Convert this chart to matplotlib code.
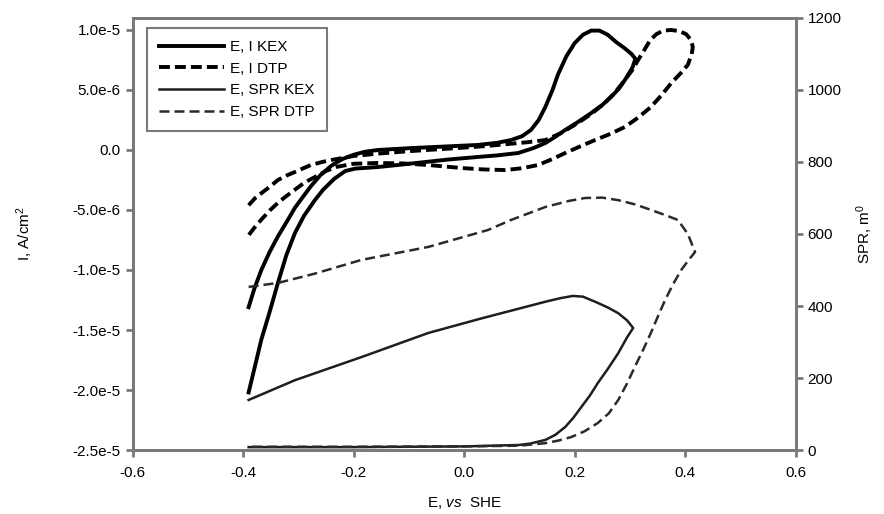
import matplotlib
matplotlib.use("Agg")
import matplotlib.pyplot as plt
from matplotlib.ticker import FixedLocator

plt.rcParams['font.family'] = ['Liberation Sans', 'DejaVu Sans']
plt.rcParams['mathtext.fontset'] = 'custom'
plt.rcParams['mathtext.rm'] = 'Liberation Sans'
plt.rcParams['mathtext.it'] = 'Liberation Sans:italic'

# current, KEX (E in V, I in uA/cm2)
e_i_kex = [-0.39, -0.38, -0.367, -0.352, -0.337, -0.32, -0.306, -0.29, -0.277, -0.26,
           -0.24, -0.22, -0.2, -0.18, -0.156, -0.1, -0.04, 0.025, 0.06, 0.085,
           0.105, 0.121, 0.135, 0.147, 0.16, 0.17, 0.185, 0.2, 0.215, 0.23,
           0.245, 0.26, 0.275, 0.29, 0.303, 0.31,
           0.305, 0.291, 0.28, 0.266, 0.25, 0.23, 0.205, 0.183, 0.165, 0.147,
           0.125, 0.098, 0.06, 0.025, -0.03, -0.08, -0.12, -0.156, -0.197, -0.215,
           -0.235, -0.255, -0.27, -0.29, -0.306, -0.322, -0.337, -0.352, -0.367, -0.38,
           -0.39]
i_kex = [-13.1, -11.6, -10.0, -8.5, -7.2, -5.9, -4.8, -3.8, -3.0, -2.1,
         -1.3, -0.75, -0.4, -0.15, 0.0, 0.15, 0.28, 0.42, 0.6, 0.83,
         1.15, 1.67, 2.5, 3.58, 5.0, 6.3, 7.8, 8.9, 9.6, 9.95,
         9.95, 9.6, 9.0, 8.5, 8.0, 7.6,
         6.9, 5.83, 5.1, 4.42, 3.75, 3.08, 2.3, 1.67, 1.1, 0.58,
         0.15, -0.25, -0.45, -0.58, -0.8, -1.05, -1.25, -1.42, -1.55, -1.75,
         -2.4, -3.3, -4.17, -5.5, -6.9, -8.8, -11.08, -13.5, -15.8, -18.3,
         -20.2]

# current, DTP
e_i_dtp = [-0.39, -0.378, -0.367, -0.35, -0.337, -0.32, -0.306, -0.29, -0.277, -0.257,
           -0.24, -0.2, -0.15, -0.1, -0.05, 0.0, 0.04, 0.08, 0.115, 0.147,
           0.175, 0.206, 0.23, 0.255, 0.275, 0.291, 0.305, 0.315, 0.327, 0.337,
           0.348, 0.36, 0.375, 0.39, 0.402, 0.41, 0.414, 0.412,
           0.405, 0.392, 0.375, 0.357, 0.338, 0.315, 0.291, 0.265, 0.237, 0.21,
           0.183, 0.16, 0.134, 0.105, 0.074, 0.035, -0.005, -0.065, -0.11, -0.156,
           -0.2, -0.23, -0.25, -0.27, -0.29, -0.306, -0.322, -0.337, -0.352, -0.367,
           -0.38, -0.39]
i_dtp = [-4.6, -4.0, -3.6, -3.0, -2.5, -2.1, -1.83, -1.5, -1.25, -1.0,
         -0.83, -0.5, -0.28, -0.1, 0.05, 0.2, 0.33, 0.5, 0.65, 0.83,
         1.4, 2.25, 3.0, 3.92, 4.9, 5.83, 6.7, 7.5, 8.4, 9.17,
         9.65, 9.95, 10.0, 9.9, 9.65, 9.2, 8.6, 8.0,
         7.1, 6.4, 5.58, 4.55, 3.58, 2.7, 1.92, 1.35, 0.83, 0.3,
         -0.25, -0.75, -1.25, -1.52, -1.67, -1.62, -1.5, -1.25, -1.12, -1.08,
         -1.15, -1.4, -1.75, -2.25, -2.75, -3.3, -3.85, -4.4, -5.05, -5.8,
         -6.5, -7.1]

# SPR, KEX (m deg)
e_spr_kex = [-0.39, -0.306, -0.186, -0.065, 0.03, 0.1, 0.15, 0.175, 0.197, 0.215,
             0.237, 0.26, 0.279, 0.295, 0.306,
             0.295, 0.279, 0.26, 0.242, 0.228, 0.212, 0.198, 0.183, 0.165, 0.147,
             0.12, 0.1, 0.0, -0.2, -0.39]
spr_kex = [139, 194, 258, 325, 365, 393, 413, 422, 428, 426,
           412, 396, 380, 360, 339,
           313, 269, 225, 186, 152, 119, 90, 64, 42, 28,
           18, 14, 10, 8, 8]

# SPR, DTP
e_spr_dtp = [-0.39, -0.337, -0.27, -0.186, -0.065, 0.043, 0.085, 0.147, 0.19, 0.219,
             0.25, 0.279, 0.31, 0.338, 0.365, 0.387, 0.405, 0.418,
             0.405, 0.393, 0.378, 0.364, 0.351, 0.338, 0.324, 0.309, 0.295, 0.279,
             0.262, 0.242, 0.218, 0.194, 0.17, 0.147, 0.1, 0.0, -0.2, -0.39]
spr_dtp = [453, 464, 490, 528, 564, 611, 639, 675, 692, 700,
           701, 694, 682, 667, 652, 639, 600, 550,
           525, 500, 460, 417, 372, 325, 278, 231, 185, 139,
           102, 75, 52, 36, 26, 19, 12, 10, 9, 9]

x_ticks = [-0.6, -0.4, -0.2, 0.0, 0.2, 0.4, 0.6]
x_labels = ['-0.6', '-0.4', '-0.2', '0.0', '0.2', '0.4', '0.6']
y_ticks = [1.0e-5, 5.0e-6, 0.0, -5.0e-6, -1.0e-5, -1.5e-5, -2.0e-5, -2.5e-5]
y_labels = ['1.0e-5', '5.0e-6', '0.0', '-5.0e-6', '-1.0e-5', '-1.5e-5', '-2.0e-5', '-2.5e-5']
spr_ticks = [0, 200, 400, 600, 800, 1000, 1200]

fig = plt.figure(figsize=(8.84, 5.14), dpi=100)
ax = fig.add_axes([0.150, 0.1245, 0.750, 0.8405])
ax2 = ax.twinx()

spine_col = '#7a7a7a'
fs = 11

l1, = ax.plot(e_i_kex, [v * 1e-6 for v in i_kex], color='black', lw=2.8,
              solid_joinstyle='round', label='E, I KEX')
l2, = ax.plot(e_i_dtp, [v * 1e-6 for v in i_dtp], color='black', lw=2.8,
              dashes=(2.8, 1.3), label='E, I DTP')
l3, = ax2.plot(e_spr_kex, spr_kex, color='#1e1e1e', lw=1.8, label='E, SPR KEX')
l4, = ax2.plot(e_spr_dtp, spr_dtp, color='#2a2a2a', lw=1.8,
               dashes=(4, 2), label='E, SPR DTP')

ax.set_xlim(-0.6, 0.6)
ax.set_ylim(-2.5e-5, 1.1e-5)
ax2.set_ylim(0, 1200)

ax.xaxis.set_major_locator(FixedLocator(x_ticks))
ax.set_xticklabels(x_labels)
ax.yaxis.set_major_locator(FixedLocator(y_ticks))
ax.set_yticklabels(y_labels)
ax2.yaxis.set_major_locator(FixedLocator(spr_ticks))

for a in (ax, ax2):
    for s in a.spines.values():
        s.set_color(spine_col)
        s.set_linewidth(2)
    a.tick_params(colors=spine_col, labelcolor='black', labelsize=fs,
                  width=2, length=5)
ax.tick_params(axis='x', pad=6.5)

ax.set_xlabel(r'E, $\it{vs}$  SHE', fontsize=fs, labelpad=11)
ax.set_ylabel(r'I, A/cm$^2$', fontsize=fs, labelpad=27)
ax2.set_ylabel(r'SPR, m$^0$', fontsize=fs, labelpad=9)

leg = ax.legend(handles=[l1, l2, l3, l4], loc='upper left',
                bbox_to_anchor=(0.021, 0.977), fontsize=fs, handlelength=4.3,
                handletextpad=0.35, labelspacing=0.5, borderpad=0.8,
                borderaxespad=0, fancybox=False, framealpha=1,
                edgecolor=spine_col)
leg.get_frame().set_linewidth(1.5)

fig.savefig('out.png', dpi=100)
